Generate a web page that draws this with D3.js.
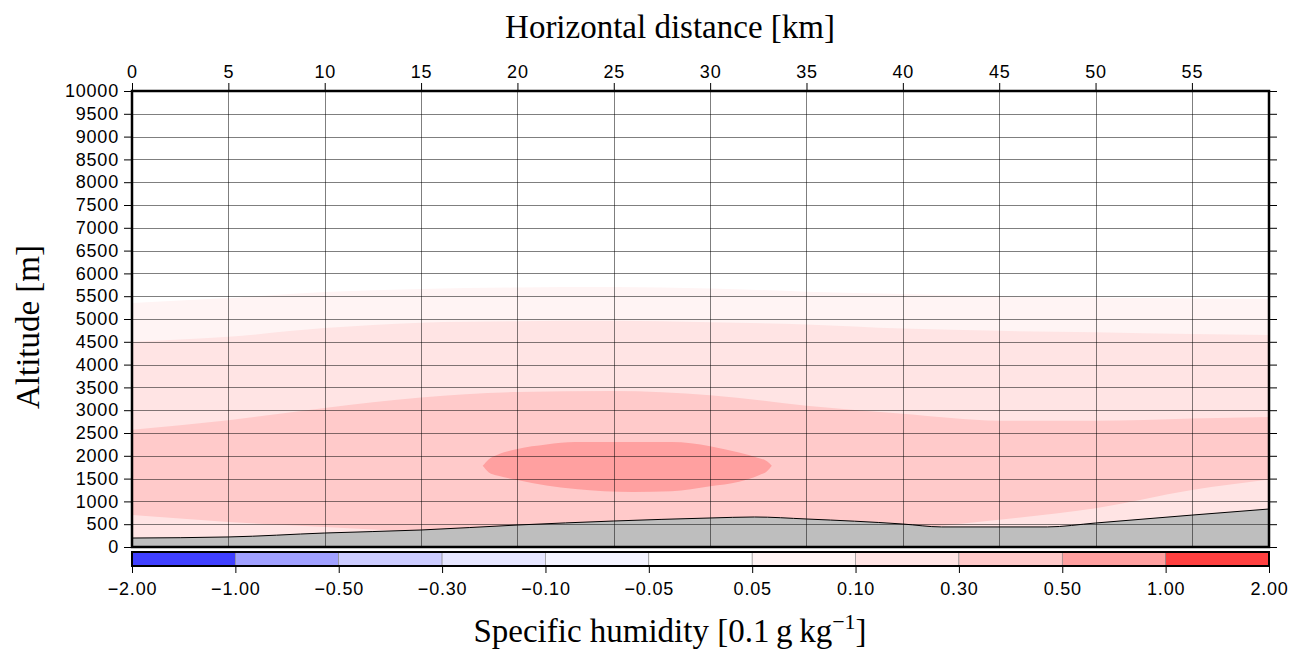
<!DOCTYPE html>
<html>
<head>
<meta charset="utf-8">
<script src="https://cdn.jsdelivr.net/npm/d3@7"></script>
<style>
  body { margin: 0; background: #fff; }
  svg { display: block; }
  .tick-label { font-family: "Liberation Sans", Arial, sans-serif; font-size: 18px; letter-spacing: 0.8px; fill: #000; }
  .title { font-family: "Liberation Serif", "Times New Roman", serif; font-size: 33px; fill: #000; }
</style>
</head>
<body>
<svg id="chart" width="1301" height="651"></svg>
<script>
// distance grid for contour boundaries [km]
const distKm = [0, 5, 10, 15, 20, 25, 30, 35, 40, 45, 50, 55, 59];
// altitude of each contour boundary [m]
const c005Top = [5350, 5460, 5590, 5660, 5690, 5700, 5670, 5600, 5550, 5500, 5470, 5450, 5440];
const c01Top = [4500, 4610, 4800, 4920, 4950, 4960, 4930, 4880, 4790, 4740, 4710, 4670, 4650];
const c03Top = [2570, 2780, 3050, 3280, 3400, 3420, 3330, 3100, 2920, 2770, 2770, 2820, 2850];
const c03Bottom = [700, 550, 440, 330, 250, 300, 350, 400, 420, 600, 850, 1250, 1480];

// core above 0.5
const coreKm = [18.2, 18.5, 19, 20, 21.5, 23, 26, 28, 30, 31.5, 32.5, 32.95, 33.2];
const coreTop = [1780, 1920, 2030, 2150, 2250, 2300, 2300, 2300, 2210, 2070, 1950, 1880, 1780];
const coreBottom = [1780, 1640, 1560, 1470, 1350, 1270, 1205, 1220, 1330, 1430, 1570, 1660, 1780];

// terrain
const terrainKm = [0, 5, 10, 15, 20, 25, 30, 32.3, 35, 40, 42, 47.5, 50, 55, 59];
const terrainM = [197, 220, 307, 373, 482, 570, 636, 658, 614, 504, 440, 440, 526, 700, 833];

// colour scale
const cptBounds = [-2, -1, -0.5, -0.3, -0.1, -0.05, 0.05, 0.1, 0.3, 0.5, 1, 2];
const cptLabels = ["\u22122.00", "\u22121.00", "\u22120.50", "\u22120.30", "\u22120.10", "\u22120.05",
                   "0.05", "0.10", "0.30", "0.50", "1.00", "2.00"];
const cptColors = ["#4040ff", "#a0a0ff", "#ccccff", "#e6e6ff", "#f4f4ff", "#ffffff",
                   "#fff4f4", "#ffe4e4", "#ffcaca", "#ffa0a0", "#ff4040"];

const xTicks = d3.range(0, 56, 5);
const yTicks = d3.range(0, 10001, 500);

const M = { left: 132, right: 1269, top: 91, bottom: 547 };

const svg = d3.select('#chart');
const x = d3.scaleLinear().domain([0, 59]).range([M.left, M.right]);
const y = d3.scaleLinear().domain([0, 10000]).range([M.bottom, M.top]);
const color = d3.scaleThreshold().domain(cptBounds.slice(1, -1)).range(cptColors);

svg.append('defs').append('clipPath').attr('id', 'plot-clip')
   .append('rect').attr('x', M.left).attr('y', M.top)
   .attr('width', M.right - M.left).attr('height', M.bottom - M.top);

const plot = svg.append('g').attr('clip-path', 'url(#plot-clip)');

function bandArea(lo, hi, xs) {
    return d3.area()
        .x((d, i) => x(xs[i]))
        .y0((d, i) => y(lo ? lo[i] : 0))
        .y1((d, i) => y(hi[i]))
        .curve(d3.curveMonotoneX)(xs);
}

// fills, lowest level first
plot.append('path').attr('fill', color(0.07)).attr('d', bandArea(null, c005Top, distKm));
plot.append('path').attr('fill', color(0.2)).attr('d', bandArea(null, c01Top, distKm));
plot.append('path').attr('fill', color(0.4)).attr('d', bandArea(c03Bottom, c03Top, distKm));
plot.append('path').attr('fill', color(0.7)).attr('d', bandArea(coreBottom, coreTop, coreKm));

// terrain
plot.append('path').attr('fill', '#bebebe').attr('d', bandArea(null, terrainM, terrainKm));
plot.append('path').attr('fill', 'none').attr('stroke', '#000').attr('stroke-width', 1)
    .attr('d', d3.line().x((d, i) => x(terrainKm[i])).y(d => y(d)).curve(d3.curveMonotoneX)(terrainM));

// grid
const grid = svg.append('g').attr('stroke', '#000').attr('stroke-opacity', 0.5).attr('stroke-width', 1);
grid.selectAll('.gx').data(xTicks).join('line')
    .attr('x1', d => Math.round(x(d)) + 0.5).attr('x2', d => Math.round(x(d)) + 0.5)
    .attr('y1', M.top).attr('y2', M.bottom);
grid.selectAll('.gy').data(yTicks).join('line')
    .attr('y1', d => Math.round(y(d)) + 0.5).attr('y2', d => Math.round(y(d)) + 0.5)
    .attr('x1', M.left).attr('x2', M.right);

// axes
const axTop = svg.append('g').attr('transform', `translate(0,${M.top})`)
    .call(d3.axisTop(x).tickValues(xTicks).tickSize(8).tickPadding(5).tickFormat(d3.format('d')));
const axLeft = svg.append('g').attr('transform', `translate(${M.left},0)`)
    .call(d3.axisLeft(y).tickValues(yTicks).tickSize(8).tickPadding(5).tickFormat(d3.format('d')));
const axRight = svg.append('g').attr('transform', `translate(${M.right},0)`)
    .call(d3.axisRight(y).tickValues(yTicks).tickSize(8).tickFormat(''));

[axTop, axLeft, axRight].forEach(a => {
    a.select('.domain').remove();
    a.selectAll('text').attr('class', 'tick-label').attr('font-size', null).attr('font-family', null);
    a.selectAll('line').attr('stroke', '#000');
});

// frame
svg.append('rect').attr('x', M.left).attr('y', M.top)
   .attr('width', M.right - M.left).attr('height', M.bottom - M.top)
   .attr('fill', 'none').attr('stroke', '#000').attr('stroke-width', 2.5);

// colour bar
const cbTop = 552, cbH = 14;
const cb = d3.scaleLinear().domain([0, cptColors.length]).range([M.left, M.right]);
svg.append('g').selectAll('rect').data(cptColors).join('rect')
    .attr('x', (d, i) => cb(i)).attr('y', cbTop)
    .attr('width', (d, i) => cb(i + 1) - cb(i)).attr('height', cbH)
    .attr('fill', d => d).attr('stroke', '#888').attr('stroke-width', 0.6);
svg.append('rect').attr('x', M.left).attr('y', cbTop).attr('width', M.right - M.left).attr('height', cbH)
   .attr('fill', 'none').attr('stroke', '#000').attr('stroke-width', 2);

const cbAxis = svg.append('g').attr('transform', `translate(0,${cbTop + cbH})`)
    .call(d3.axisBottom(cb).tickValues(d3.range(0, cptLabels.length)).tickSize(7).tickPadding(9)
        .tickFormat((d, i) => cptLabels[i]));
cbAxis.select('.domain').remove();
cbAxis.selectAll('line').attr('stroke', '#000');
cbAxis.selectAll('text').attr('class', 'tick-label').attr('font-size', null).attr('font-family', null);

// titles
const titleX = 670;
svg.append('text').attr('class', 'title').attr('x', titleX).attr('y', 38)
   .attr('text-anchor', 'middle').text('Horizontal distance [km]');
svg.append('text').attr('class', 'title')
   .attr('transform', `translate(39,327) rotate(-90)`)
   .attr('text-anchor', 'middle').text('Altitude [m]');
const xt = svg.append('text').attr('class', 'title').attr('x', titleX).attr('y', 642)
   .attr('text-anchor', 'middle');
xt.append('tspan').text('Specific humidity [0.1\u2009g\u2009kg');
xt.append('tspan').attr('font-size', 22).attr('dy', -13).text('\u22121');
xt.append('tspan').attr('dy', 13).text(']');
</script>
</body>
</html>
